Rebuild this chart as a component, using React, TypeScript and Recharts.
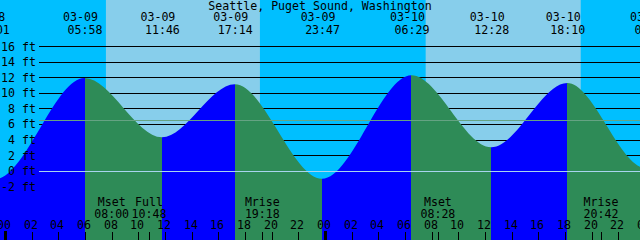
import React from 'react';
import { ComposedChart, Area, XAxis, YAxis, CartesianGrid, ReferenceArea } from 'recharts';

// hours counted from 03-09 00:00
const extremeHours = [-0.983, 5.967, 11.767, 17.233, 23.783, 30.483, 36.467, 42.167, 48.483];
const extremeFeet = [-1.2, 12.0, 4.35, 11.2, -1.0, 12.35, 3.06, 11.35, 0.0];
const extremeDates = ['03-08', '03-09', '03-09', '03-09', '03-09', '03-10', '03-10', '03-10', '03-11'];
const extremeClock = ['23:01', '05:58', '11:46', '17:14', '23:47', '06:29', '12:28', '18:10', '00:29'];

// curve read at the left and right edges of the picture
const edgeHours = [-0.375, 47.625];
const edgeFeet = [-0.94, 0.55];

const sunrise = [7.57, 31.55];
const sunset = [19.12, 43.18];

const moonHours = [8.0, 10.8, 19.3, 32.467, 44.7];
const moonNames = ['Mset', 'Full', 'Mrise', 'Mset', 'Mrise'];
const moonClock = ['08:00', '10:48', '19:18', '08:28', '20:42'];

const hourTicks = [0, 2, 4, 6, 8, 10, 12, 14, 16, 18, 20, 22, 24, 26, 28, 30, 32, 34, 36, 38, 40, 42, 44, 46, 48];
const hourLabels = ['00', '02', '04', '06', '08', '10', '12', '14', '16', '18', '20', '22',
  '00', '02', '04', '06', '08', '10', '12', '14', '16', '18', '20', '22', '00'];

const depthTicks = [-2, 0, 2, 4, 6, 8, 10, 12, 14, 16];
const depthLabels = ['-2 ft', '0 ft', '2 ft', '4 ft', '6 ft', '8 ft', '10 ft', '12 ft', '14 ft', '16 ft'];

const mslFeet = 6.54;
const datumFeet = 0;

const xDomain = [-0.375, 47.625];
const yDomain = [-8.9, 22.06];

const tideData = [
  ...extremeHours.map((t, i) => ({ t, h: extremeFeet[i] })),
  ...edgeHours.map((t, i) => ({ t, h: edgeFeet[i] })),
].sort((a, b) => a.t - b.t);

const W = 640;
const H = 240;
const NIGHT = '#00BFFF';
const DAY = '#87CEEB';
const FLOOD = '#0000FF';
const EBB = '#2E8B57';

const font = { fontFamily: '"DejaVu Sans Mono", monospace', fontSize: 11.6, fill: '#000' };

const HourTick = (props: any) => {
  const { x, payload } = props;
  const i = hourTicks.indexOf(payload.value);
  const px = Math.round(x);
  const midnight = payload.value % 24 === 0;
  return (
    <g>
      <text x={px - 1} y={229} textAnchor="middle" {...font}>{hourLabels[i]}</text>
      {midnight
        ? <rect x={px - 1} y={231} width={3} height={9} fill="#000" />
        : <rect x={px} y={232} width={1} height={8} fill="#000" />}
    </g>
  );
};

const MoonTick = (props: any) => {
  const { x, payload } = props;
  const i = moonHours.indexOf(payload.value);
  return (
    <g>
      <text x={x} y={206} textAnchor="middle" {...font}>{moonNames[i]}</text>
      <text x={x} y={217.5} textAnchor="middle" {...font}>{moonClock[i]}</text>
      <rect x={Math.round(x)} y={232} width={1} height={8} fill="#000" />
    </g>
  );
};

const TideTick = (props: any) => {
  const { x, payload } = props;
  const i = extremeHours.indexOf(payload.value);
  return (
    <g>
      <text x={x - 4} y={21} textAnchor="middle" {...font}>{extremeDates[i]}</text>
      <text x={x + 0.5} y={34} textAnchor="middle" {...font}>{extremeClock[i]}</text>
    </g>
  );
};

const DepthTick = (props: any) => {
  const { y, payload } = props;
  const i = depthTicks.indexOf(payload.value);
  return <text x={36} y={y + 4} textAnchor="end" {...font}>{depthLabels[i]}</text>;
};

export default function App() {
  const t0 = tideData[0].t;
  const t1 = tideData[tideData.length - 1].t;
  const stops: React.ReactNode[] = [];
  for (let i = 0; i < extremeHours.length - 1; i++) {
    const color = extremeFeet[i + 1] > extremeFeet[i] ? FLOOD : EBB;
    stops.push(<stop key={`a${i}`} offset={(extremeHours[i] - t0) / (t1 - t0)} stopColor={color} />);
    stops.push(<stop key={`b${i}`} offset={(extremeHours[i + 1] - t0) / (t1 - t0)} stopColor={color} />);
  }

  // axes are mirrored so they take no room from the plot
  const axisProps = {
    dataKey: 't', type: 'number' as const, domain: xDomain, allowDataOverflow: true, interval: 0,
    mirror: true, height: 1, tickLine: false, axisLine: false,
  };

  return (
    <div style={{ position: 'relative', width: W, height: H, background: NIGHT }}>
      <style>{'body{margin:0}'}</style>
      <ComposedChart width={W} height={H} data={tideData} margin={{ top: 0, right: 0, bottom: 0, left: 0 }}>
        <defs>
          <linearGradient id="tideFill" x1="0" y1="0" x2="1" y2="0">{stops}</linearGradient>
        </defs>
        {sunrise.map((s, i) => (
          <ReferenceArea key={i} xAxisId="h" x1={s} x2={sunset[i]} fill={DAY} fillOpacity={1} stroke="none" zIndex={-200} ifOverflow="visible" />
        ))}
        <CartesianGrid xAxisId="h" vertical={false} horizontalValues={depthTicks} stroke="#000" x={39} width={W - 39} shapeRendering="crispEdges" />
        <Area xAxisId="h" dataKey="h" type="monotone" stroke="none" fill="url(#tideFill)" fillOpacity={1} baseValue="dataMin" isAnimationActive={false} />
        <CartesianGrid xAxisId="h" vertical={false} horizontalValues={[mslFeet]} stroke="#65a383" x={39} width={W - 39} zIndex={150} shapeRendering="crispEdges" />
        <CartesianGrid xAxisId="h" vertical={false} horizontalValues={[datumFeet]} stroke="#a8d4ee" x={39} width={W - 39} zIndex={150} shapeRendering="crispEdges" />
        <XAxis xAxisId="h" {...axisProps} ticks={hourTicks} tick={HourTick} />
        <XAxis xAxisId="moon" {...axisProps} ticks={moonHours} tick={MoonTick} />
        <XAxis xAxisId="top" orientation="top" {...axisProps} ticks={extremeHours} tick={TideTick} />
        <YAxis type="number" domain={yDomain} allowDataOverflow ticks={depthTicks} interval={0} mirror width={1} tickLine={false} axisLine={false} tick={DepthTick} />
      </ComposedChart>
      <svg width={W} height={H} style={{ position: 'absolute', left: 0, top: 0, pointerEvents: 'none' }}>
        <text x={320} y={10} textAnchor="middle" {...font}>Seattle, Puget Sound, Washington</text>
      </svg>
    </div>
  );
}
